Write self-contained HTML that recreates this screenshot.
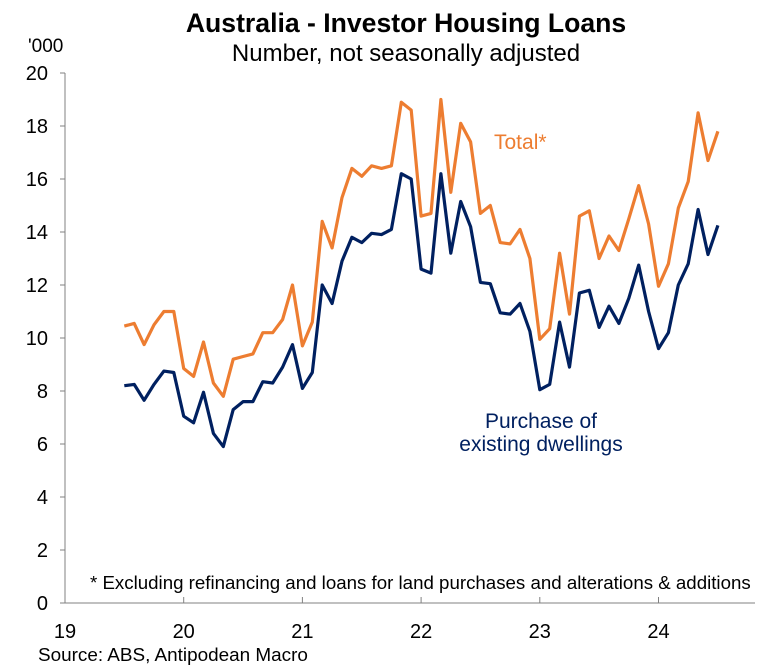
<!DOCTYPE html>
<html><head><meta charset="utf-8"><style>
body{margin:0;background:#fff;}
svg text{font-family:"Liberation Sans",Arial,sans-serif;}
</style></head><body>
<svg id="chart" width="775" height="665" xmlns="http://www.w3.org/2000/svg">
<text x="406" y="32" text-anchor="middle" font-size="26.6" font-weight="bold" fill="#000">Australia - Investor Housing Loans</text>
<text x="406" y="61" text-anchor="middle" font-size="24" fill="#000">Number, not seasonally adjusted</text>
<text x="28" y="52" font-size="19" fill="#000">'000</text>
<g id="axes"></g>
<g id="series"></g>
<text x="494" y="149" font-size="21" fill="#ED7D31">Total*</text>
<text x="541" y="428" text-anchor="middle" font-size="21" fill="#002060">Purchase of</text>
<text x="541" y="451" text-anchor="middle" font-size="21" fill="#002060">existing dwellings</text>
<text x="90" y="589" font-size="18.7" fill="#000">* Excluding refinancing and loans for land purchases and alterations &amp; additions</text>
<text x="38" y="661" font-size="18.9" fill="#000">Source: ABS, Antipodean Macro</text>
</svg>
<script>
const yTicks=[0,2,4,6,8,10,12,14,16,18,20];
const xTickLabels=["19","20","21","22","23","24"];
const startYear=2019.5;
const total=[10.45,10.55,9.75,10.5,11.0,11.0,8.85,8.55,9.85,8.3,7.8,9.2,9.3,9.4,10.2,10.2,10.7,12.0,9.7,10.6,14.4,13.4,15.3,16.4,16.1,16.5,16.4,16.5,18.9,18.6,14.6,14.7,19.0,15.5,18.1,17.4,14.7,15.0,13.6,13.55,14.1,13.0,9.95,10.35,13.2,10.9,14.6,14.8,13.0,13.85,13.3,14.5,15.75,14.3,11.95,12.8,14.9,15.9,18.5,16.7,17.8];
const existing=[8.2,8.25,7.65,8.25,8.75,8.7,7.05,6.8,7.95,6.4,5.9,7.3,7.6,7.6,8.35,8.3,8.9,9.75,8.1,8.7,12.0,11.3,12.9,13.8,13.6,13.95,13.9,14.1,16.2,16.0,12.6,12.45,16.2,13.2,15.15,14.2,12.1,12.05,10.95,10.9,11.3,10.25,8.05,8.25,10.6,8.9,11.7,11.8,10.4,11.2,10.55,11.5,12.75,11.0,9.6,10.2,12.0,12.8,14.85,13.15,14.25];
const NS="http://www.w3.org/2000/svg";
const x0=65,x1=755,yTop=73,yBot=603;
const xYear=v=>x0+(v-2019)*118.7;
const yVal=v=>yBot-(v/20)*(yBot-yTop);
const axes=document.getElementById('axes');
function mk(tag,attrs,parent){const e=document.createElementNS(NS,tag);for(const k in attrs)e.setAttribute(k,attrs[k]);parent.appendChild(e);return e;}
let a=mk('line',{x1:x0,y1:yTop,x2:x0,y2:yBot,stroke:'#808080','stroke-width':1},axes);


let b=mk('line',{x1:x0-5,y1:yBot,x2:x1,y2:yBot,stroke:'#808080','stroke-width':1},axes);


yTicks.forEach(v=>{
  const t=mk('line',{x1:x0-5,y1:yVal(v),x2:x0,y2:yVal(v),stroke:'#808080'},axes);
  
  
  const l=mk('text',{x:48,y:yVal(v)+7,'text-anchor':'end','font-size':20,fill:'#000'},axes);
  l.textContent=v;
  
  
});
xTickLabels.forEach((s,i)=>{
  const x=xYear(2019+i);
  const t=mk('line',{x1:x,y1:yBot,x2:x,y2:yBot-6,stroke:'#808080'},axes);
  
  
  const l=mk('text',{x:x,y:638,'text-anchor':'middle','font-size':20,fill:'#000'},axes);
  l.textContent=s;
  
  
});
const series=document.getElementById('series');
function line(data,color,name){
  const pts=data.map((v,i)=>xYear(startYear+i/12).toFixed(1)+','+yVal(v).toFixed(1)).join(' ');
  const p=mk('polyline',{points:pts,fill:'none',stroke:color,'stroke-width':3.2,'stroke-linejoin':'round'},series);
  
  
}
line(total,'#ED7D31','total-line');
line(existing,'#002060','existing-dwellings-line');
</script>
</body></html>
